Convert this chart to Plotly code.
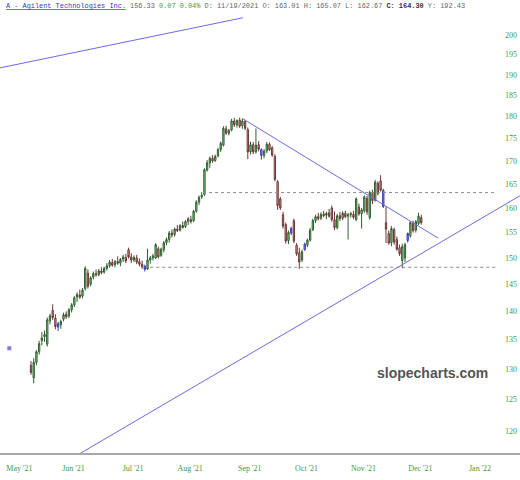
import math
import pandas as pd
import plotly.graph_objects as go

# ---------------- data ----------------
open_ = [130.6,128.5,131.1,132.9,134.8,135.5,134.2,138.3,140.2,138.8,
         137.2,137.6,138.6,139.5,139.2,140.3,141.2,142.6,143.0,142.8,
         144.2,147.1,145.0,146.3,147.0,146.8,147.5,147.3,148.0,148.5,
         149.1,148.7,149.3,149.0,149.8,150.1,151.6,150.2,149.6,150.0,
         149.3,148.8,148.4,147.9,149.6,150.0,150.0,151.8,150.5,151.6,
         153.0,153.6,154.9,154.6,155.7,155.5,156.4,156.2,157.2,157.6,
         157.4,159.3,161.2,162.3,162.8,168.0,169.6,170.6,170.1,171.1,
         172.5,173.5,177.2,176.2,176.9,179.0,178.1,179.2,177.9,178.9,
         177.0,172.0,173.6,172.0,173.6,172.5,171.2,172.2,173.7,172.9,
         171.0,165.5,161.9,158.6,156.6,153.4,154.9,157.4,152.5,151.0,
         149.6,151.6,152.5,153.5,155.6,157.4,158.2,157.9,158.7,158.5,
         159.0,160.0,157.6,156.0,158.4,157.9,158.9,158.3,158.6,158.7,
         157.6,160.2,158.8,159.4,162.0,158.0,163.0,161.6,165.2,165.7,
         163.7,157.0,154.8,153.0,155.6,153.6,152.0,149.5,150.0,153.4,
         154.4,156.8,155.5,156.8,158.0]
high = [131.3,131.8,133.2,134.8,136.3,136.6,138.9,139.6,141.3,139.5,
        138.1,138.5,139.8,140.0,140.6,141.5,142.8,143.5,144.0,144.3,
        148.4,147.8,146.5,147.4,147.8,147.9,148.2,148.3,149.0,149.6,
        149.8,149.6,150.3,150.0,150.6,150.8,152.0,150.9,150.5,150.6,
        149.9,149.5,148.7,151.8,150.4,150.8,152.9,152.2,152.0,153.3,
        154.0,155.3,155.6,156.0,156.5,156.7,157.2,157.5,158.1,158.4,
        159.6,161.6,162.6,163.3,168.4,170.2,171.0,171.3,171.4,172.9,
        174.3,177.8,177.9,177.2,179.5,179.7,179.4,179.8,179.6,179.3,
        177.5,174.3,174.2,177.3,174.4,172.8,172.6,174.2,174.1,173.3,
        171.5,165.9,162.3,159.2,157.0,155.4,156.2,157.8,152.9,152.0,
        151.6,153.0,153.8,155.9,157.8,158.6,159.0,159.1,159.4,159.2,
        159.8,160.5,159.3,158.8,159.2,159.3,159.4,159.0,159.2,159.4,
        162.2,160.9,160.0,162.6,162.5,163.6,163.8,165.9,165.6,166.9,
        164.0,160.3,155.4,156.3,156.0,154.2,152.6,152.8,153.0,155.0,
        157.3,157.4,157.5,159.0,158.6]
low = [129.0,127.6,130.6,132.4,134.0,134.6,133.8,137.7,138.5,136.8,
       136.5,136.9,138.2,138.7,138.8,139.8,140.8,141.7,142.3,142.4,
       143.8,144.2,144.6,145.9,146.4,146.5,146.9,147.0,147.6,148.1,
       148.3,148.2,148.7,148.4,149.2,149.0,149.9,149.0,149.2,148.8,
       148.4,147.9,147.4,147.7,148.9,149.5,149.8,149.9,150.2,151.1,
       152.5,153.0,154.0,154.2,155.1,155.2,155.8,155.9,156.5,156.8,
       157.1,159.0,160.6,161.9,162.5,167.7,168.5,169.6,169.8,170.8,
       172.0,173.2,175.8,175.7,176.6,177.6,177.5,177.4,177.2,176.9,
       170.4,171.4,171.5,171.6,172.1,170.3,170.6,171.7,172.2,170.9,
       165.6,159.6,159.6,155.8,152.8,152.7,154.5,152.9,150.4,147.9,
       149.2,151.4,152.1,153.2,155.3,156.9,157.4,157.5,158.1,157.7,
       158.0,157.2,155.5,155.6,157.3,157.5,157.9,153.6,158.0,157.7,
       157.3,158.4,155.8,159.0,158.6,157.6,160.8,161.3,162.6,163.4,
       160.0,152.9,152.6,152.3,152.6,151.4,150.4,148.0,149.2,153.0,
       154.0,155.0,155.0,156.5,156.6]
close = [129.4,131.1,132.9,134.3,135.3,135.9,138.5,139.2,138.9,137.3,
         137.8,138.2,139.4,139.0,140.3,141.2,142.5,143.1,142.6,143.9,
         148.0,144.6,146.2,147.0,146.8,147.5,147.2,148.0,148.5,149.2,
         148.6,149.3,149.0,149.7,150.2,149.4,150.2,149.6,150.1,149.2,
         148.8,148.3,147.8,149.6,150.0,150.4,152.6,150.2,151.7,153.0,
         153.6,154.9,154.5,155.7,155.4,156.4,156.0,157.2,157.8,157.2,
         159.3,161.2,162.2,162.6,168.1,169.6,170.6,170.0,171.0,172.5,
         173.9,177.3,176.2,176.8,179.0,178.1,179.1,177.8,179.0,177.3,
         172.0,173.6,172.0,173.5,172.6,171.2,172.2,173.7,172.5,171.3,
         166.0,160.5,160.0,156.3,153.3,155.0,155.8,153.3,150.8,149.2,
         151.2,152.7,153.5,155.5,157.4,158.2,157.8,158.7,158.4,158.9,
         158.3,157.6,156.0,158.4,157.8,158.9,158.2,158.6,158.8,158.1,
         161.9,158.8,159.6,162.3,159.2,163.2,161.5,165.4,163.0,163.7,
         160.3,155.7,152.9,155.8,153.1,151.7,150.8,152.2,152.6,154.8,
         157.0,155.4,157.2,158.3,157.0]
blue_days = [10, 42, 85, 96, 101, 130, 139]

first_day = "2021-05-13"
holidays = ["2021-05-31", "2021-07-05", "2021-09-06", "2021-11-25", "2021-12-24"]
month_labels = ["May '21", "Jun '21", "Jul '21", "Aug '21", "Sep '21",
                "Oct '21", "Nov '21", "Dec '21", "Jan '22"]
y_ticks = [120, 125, 130, 135, 140, 145, 150, 155, 160, 165, 170, 175, 180, 185, 190, 195, 200]

stray_day = [-8]
stray_price = [133.5]

# trend lines: (day, price) anchors
line_up_days = [-11.4, 78.2]
line_up_prices = [191.7, 204.5]
line_down_days = [78.2, 150.2]
line_down_prices = [179.5, 153.9]
line_low_days = [33.95, 169.4]
line_low_prices = [120.4, 158.9]

levels = [163.2, 148.2]
level_start = [63.5, 44.0]
level_end = 172.0

# ---------------- calendar ticks ----------------
cal = pd.bdate_range("2021-05-03", "2022-01-31", freq="C", holidays=holidays)
pos0 = list(cal).index(pd.Timestamp(first_day))
tick_vals = []
seen = set()
for k, d in enumerate(cal):
    key = (d.year, d.month)
    if key not in seen:
        seen.add(key)
        tick_vals.append(k - pos0)

N = len(close)
days = list(range(N))
norm = [i for i in days if i not in blue_days]

fig = go.Figure()

def extend(dd, pp, lo=-14, hi=185):
    slope = (math.log(pp[1]) - math.log(pp[0])) / (dd[1] - dd[0])
    f = lambda t: math.exp(math.log(pp[0]) + slope * (t - dd[0]))
    return [lo, hi], [f(lo), f(hi)]

TL = "#6b6be0"
ex, ey = extend(line_low_days, line_low_prices)
fig.add_trace(go.Scatter(x=ex, y=ey, mode="lines", line=dict(color=TL, width=1), hoverinfo="skip"))
fig.add_trace(go.Scatter(x=line_up_days, y=line_up_prices, mode="lines",
                         line=dict(color=TL, width=1), hoverinfo="skip"))
fig.add_trace(go.Scatter(x=line_down_days, y=line_down_prices, mode="lines",
                         line=dict(color=TL, width=1), hoverinfo="skip"))

for lv, st in zip(levels, level_start):
    fig.add_trace(go.Scatter(x=[st, level_end], y=[lv, lv], mode="lines",
                             line=dict(color="#8a8a8a", width=1, dash="dot"), hoverinfo="skip"))

fig.add_trace(go.Candlestick(
    x=norm,
    open=[open_[i] for i in norm], high=[high[i] for i in norm],
    low=[low[i] for i in norm], close=[close[i] for i in norm],
    increasing=dict(line=dict(color="#2f5f2f", width=1), fillcolor="#86dc86"),
    decreasing=dict(line=dict(color="#6e3535", width=1), fillcolor="#e4a3a3"),
    whiskerwidth=0, hoverinfo="skip"))
fig.add_trace(go.Candlestick(
    x=blue_days,
    open=[open_[i] for i in blue_days], high=[high[i] for i in blue_days],
    low=[low[i] for i in blue_days], close=[close[i] for i in blue_days],
    increasing=dict(line=dict(color="#3c3cb8", width=1), fillcolor="#8383ee"),
    decreasing=dict(line=dict(color="#3c3cb8", width=1), fillcolor="#8383ee"),
    whiskerwidth=0, hoverinfo="skip"))

fig.add_trace(go.Scatter(x=stray_day, y=stray_price, mode="markers",
                         marker=dict(symbol="square", size=4, color="#7a7ae6"), hoverinfo="skip"))

header = ("<span style='color:#3434c4'><u>A - Agilent Technologies Inc.</u></span> "
          "<span style='color:#666666'>156.33</span> "
          "<span style='color:#3a9e3a'>0.07 0.04%</span> "
          "<span style='color:#666666'>D: 11/19/2021 O: 163.01 H: 165.07 L: 162.67</span> "
          "<b style='color:#333333'>C: 164.30</b> "
          "<span style='color:#666666'>Y: 192.43</span>")

H_TOP, H_BOT = 16, 453
fig.add_annotation(text=header, xref="paper", yref="paper", x=0.008, y=(H_BOT - 6) / (H_BOT - H_TOP),
                   xanchor="left", yanchor="middle", showarrow=False,
                   font=dict(family="Liberation Mono, Courier New, monospace", size=6.9))
fig.add_annotation(text="<b>slopecharts.com</b>", xref="paper", yref="paper",
                   x=432 / 520, y=(H_BOT - 373) / (H_BOT - H_TOP), xanchor="center", yanchor="middle",
                   showarrow=False, font=dict(family="Liberation Sans, Arial, sans-serif", size=14, color="#555555"))

ymin = 200 * math.exp(-(H_BOT - 35) / 775)
ymax = 200 * math.exp((35 - H_TOP) / 775)

GREEN = "#3f9a3f"
fig.update_layout(
    width=520, height=480,
    margin=dict(l=0, r=0, t=H_TOP, b=480 - H_BOT),
    paper_bgcolor="white", plot_bgcolor="white",
    showlegend=False,
    xaxis=dict(range=[-31 / 2.71, (520 - 31) / 2.71], tickvals=tick_vals, ticktext=month_labels,
               showgrid=False, zeroline=False, showline=True, linecolor="#a8a8a8", linewidth=2,
               ticks="", rangeslider=dict(visible=False), ticklabelshift=10, ticklabelstandoff=6,
               tickfont=dict(family="Liberation Serif, Times New Roman, serif", size=8, color=GREEN)),
    yaxis=dict(type="log", range=[math.log10(ymin), math.log10(ymax)], side="right",
               tickvals=y_ticks, ticktext=[str(v) for v in y_ticks], ticklabelposition="inside",
               showgrid=False, zeroline=False, showline=False, ticks="",
               tickfont=dict(family="Liberation Serif, Times New Roman, serif", size=8, color=GREEN)),
)

fig.write_html("out.html", config={"displayModeBar": False, "staticPlot": True},
               post_script="document.body.style.margin='0';document.body.style.overflow='hidden';")
